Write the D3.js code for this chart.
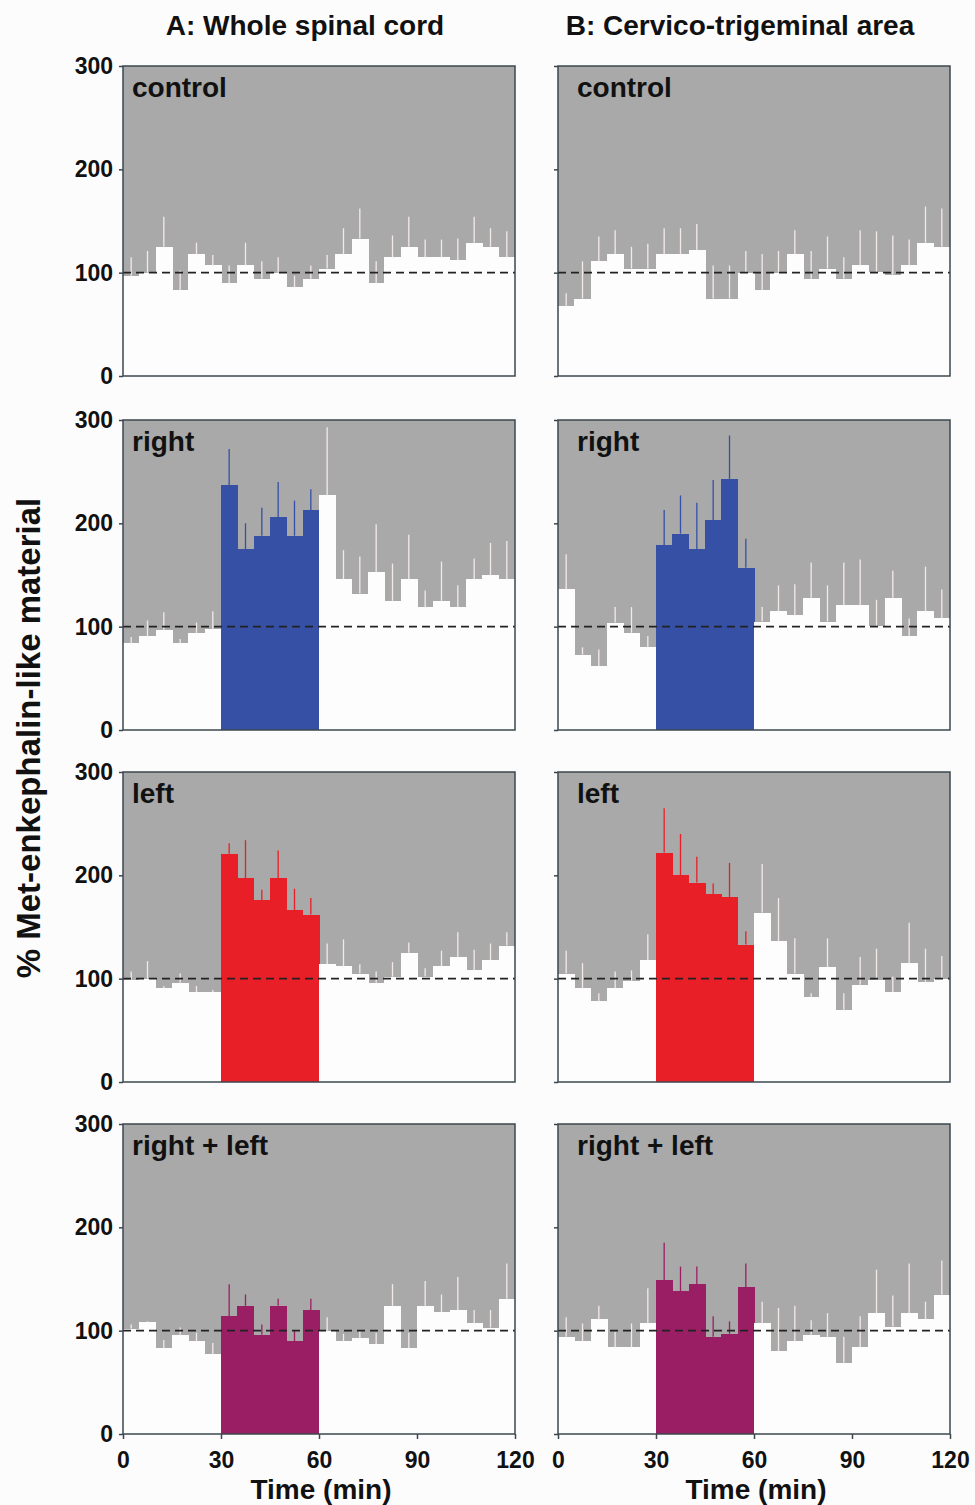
<!DOCTYPE html>
<html>
<head>
<meta charset="utf-8">
<script src="https://cdn.jsdelivr.net/npm/d3@7"></script>
<style>
  body { margin: 0; background: #fdfcfd; }
  svg { display: block; font-family: "Liberation Sans", Arial, sans-serif; font-weight: bold; }
</style>
</head>
<body>
<svg id="chart" width="975" height="1505"></svg>
<script>
// 5-min collection bins, 0-120 min; stimulation between 30 and 60 min
var binStarts = d3.range(0, 120, 5);
var xTicks = [0, 30, 60, 90, 120];
var yTicks = [0, 100, 200, 300];
var columnTitles = ["A: Whole spinal cord", "B: Cervico-trigeminal area"];
var rowLabels = ["control", "right", "left", "right + left"];
var stimColors = ["#fdfdfe", "#3550a5", "#e81f27", "#9a1e64"];

// mean values (% of basal), column A = whole spinal cord
var wholeControl = [97,100,125,83,118,107,90,107,94,100,86,94,104,118,133,90,115,125,115,115,112,129,125,115];
var wholeControlErr = [115,121,154,102,129,117,107,129,111,115,97,107,117,143,162,111,136,154,132,132,133,154,143,140];
var wholeRight = [84,91,97,84,94,98,237,175,188,206,188,213,227,146,132,153,125,146,119,125,119,146,150,146];
var wholeRightErr = [90,106,114,88,104,115,272,200,215,240,222,233,293,174,168,199,161,189,135,163,140,166,181,183];
var wholeLeft = [99,100,91,96,87,87,221,197,176,197,166,162,114,112,105,96,102,125,102,112,121,108,118,132];
var wholeLeftErr = [107,117,93,105,93,89,231,234,186,224,187,178,134,138,114,107,116,135,110,127,145,128,134,145];
var wholeBoth = [102,108,83,96,90,77,114,124,96,124,90,120,100,90,93,87,124,83,124,118,120,107,103,131];
var wholeBothErr = [106,109,91,103,98,88,145,135,106,131,100,131,113,97,100,98,145,98,148,135,152,120,120,165];

// column B = cervico-trigeminal area
var cervControl = [68,75,111,118,104,104,118,118,122,75,75,100,83,100,118,94,104,94,107,101,98,107,129,125];
var cervControlErr = [80,111,135,141,125,128,143,143,147,107,107,121,118,121,141,121,135,115,141,140,136,132,164,162];
var cervRight = [136,73,62,104,94,80,179,190,175,203,243,157,105,115,111,128,105,121,121,101,128,91,115,108];
var cervRightErr = [170,80,78,119,119,91,213,227,220,242,285,185,119,140,141,162,140,162,165,126,154,108,158,136];
var cervLeft = [105,91,78,91,98,118,222,200,193,182,179,133,164,136,105,82,111,70,94,99,87,115,97,100];
var cervLeftErr = [127,115,86,107,108,143,265,240,218,192,212,146,211,178,139,86,139,86,121,129,102,154,129,122];
var cervBoth = [94,90,111,84,84,107,149,138,145,94,97,142,107,80,90,96,94,69,84,117,104,117,111,135];
var cervBothErr = [113,107,124,99,107,141,185,162,162,114,109,165,128,122,124,110,117,94,114,159,134,165,128,168];

var panels = [
  [wholeControl, wholeControlErr, cervControl, cervControlErr],
  [wholeRight, wholeRightErr, cervRight, cervRightErr],
  [wholeLeft, wholeLeftErr, cervLeft, cervLeftErr],
  [wholeBoth, wholeBothErr, cervBoth, cervBothErr]
];

var svg = d3.select("#chart");

var colLeft = [123, 558];
var rowTop = [66, 420, 772, 1124];
var panelW = 392, panelH = 310;
var frameColor = "#3b474d";

columnTitles.forEach(function(t, c) {
  svg.append("text")
    .attr("x", colLeft[c] + panelW / 2 - 14)
    .attr("y", 35)
    .attr("text-anchor", "middle")
    .attr("font-size", 28)
    .attr("fill", "#111")
    .text(t);
});

svg.append("text")
  .attr("transform", "translate(40,738) rotate(-90)")
  .attr("text-anchor", "middle")
  .attr("font-size", 33)
  .attr("fill", "#111")
  .text("% Met-enkephalin-like material");

rowLabels.forEach(function(label, r) {
  for (var c = 0; c < 2; c++) {
    var values = panels[r][c * 2];
    var errs = panels[r][c * 2 + 1];
    var left = colLeft[c], top = rowTop[r];

    var x = d3.scaleLinear().domain([0, 120]).range([left, left + panelW]);
    var y = d3.scaleLinear().domain([0, 300]).range([top + panelH, top]);

    var g = svg.append("g");

    g.append("rect")
      .attr("x", left).attr("y", top)
      .attr("width", panelW).attr("height", panelH)
      .attr("fill", "#a9a9a9");

    var inStim = function(t) { return t >= 30 && t < 60; };
    var barFill = function(t) { return inStim(t) ? stimColors[r] : "#fdfdfe"; };
    var errColor = function(t) { return (inStim(t) && r > 0) ? stimColors[r] : "#f5e9e8"; };

    g.selectAll(".bar")
      .data(binStarts)
      .enter().append("rect")
        .attr("class", "bar")
        .attr("x", function(t) { return x(t); })
        .attr("y", function(t, i) { return y(values[i]); })
        .attr("width", function(t) { return x(t + 5) - x(t) + 0.6; })
        .attr("height", function(t, i) { return y(0) - y(values[i]); })
        .attr("fill", barFill)
        .attr("shape-rendering", "crispEdges");

    g.selectAll(".err")
      .data(binStarts)
      .enter().append("line")
        .attr("class", "err")
        .attr("x1", function(t) { return x(t + 2.5); })
        .attr("x2", function(t) { return x(t + 2.5); })
        .attr("y1", function(t, i) { return y(values[i]); })
        .attr("y2", function(t, i) { return y(errs[i]); })
        .attr("stroke", errColor)
        .attr("stroke-width", 1.3);

    g.append("line")
      .attr("x1", left).attr("x2", left + panelW)
      .attr("y1", y(100)).attr("y2", y(100))
      .attr("stroke", "#222")
      .attr("stroke-width", 1.7)
      .attr("stroke-dasharray", "8,5");

    g.append("rect")
      .attr("x", left).attr("y", top)
      .attr("width", panelW).attr("height", panelH)
      .attr("fill", "none")
      .attr("stroke", frameColor)
      .attr("stroke-width", 1.5);

    var yAxis = g.append("g")
      .attr("transform", "translate(" + left + ",0)")
      .call(d3.axisLeft(y).tickValues(yTicks).tickSize(4).tickPadding(6)
        .tickFormat(c === 0 ? d3.format("d") : function() { return ""; }));
    yAxis.select(".domain").remove();
    yAxis.selectAll("line").attr("stroke", frameColor).attr("stroke-width", 1.5);
    yAxis.selectAll("text")
      .attr("font-size", 23).attr("font-family", "Liberation Sans, Arial, sans-serif")
      .attr("font-weight", "bold").attr("fill", "#111");

    if (r === 3) {
      var xAxis = g.append("g")
        .attr("transform", "translate(0," + (top + panelH) + ")")
        .call(d3.axisBottom(x).tickValues(xTicks).tickSize(5).tickPadding(13));
      xAxis.select(".domain").remove();
      xAxis.selectAll("line").attr("stroke", frameColor).attr("stroke-width", 1.5);
      xAxis.selectAll("text")
        .attr("font-size", 23).attr("font-family", "Liberation Sans, Arial, sans-serif")
        .attr("font-weight", "bold").attr("fill", "#111");

      svg.append("text")
        .attr("x", x(60) + 2)
        .attr("y", 1499)
        .attr("text-anchor", "middle")
        .attr("font-size", 28)
        .attr("fill", "#111")
        .text("Time (min)");
    }

    g.append("text")
      .attr("x", left + (c === 0 ? 9 : 19))
      .attr("y", top + 31)
      .attr("font-size", 28)
      .attr("fill", "#111")
      .text(label);
  }
});
</script>
</body>
</html>
